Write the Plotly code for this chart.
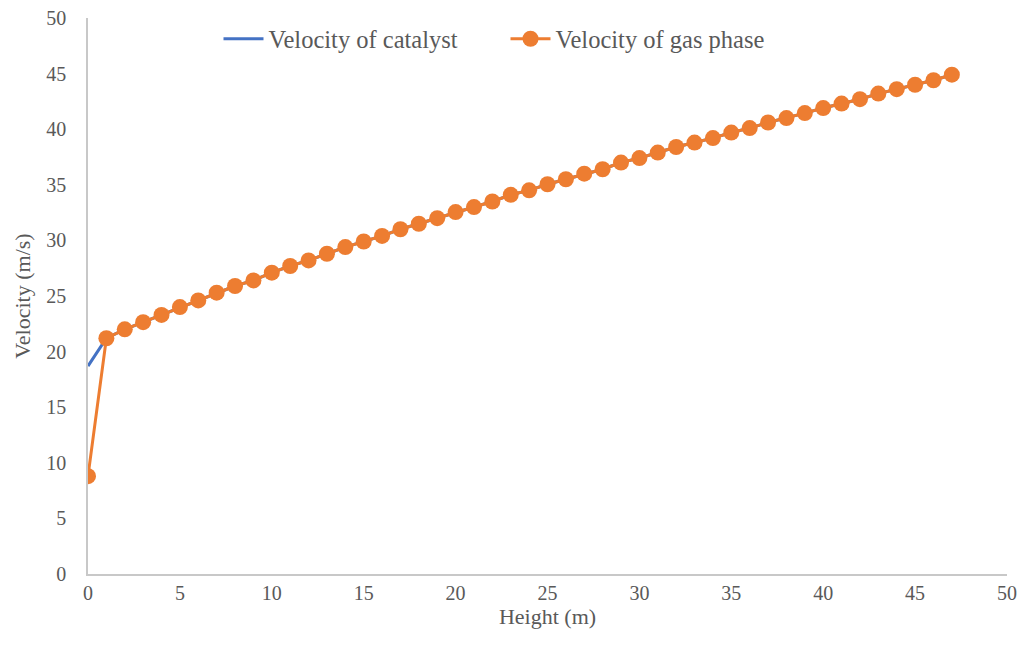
import plotly.graph_objects as go

heights = list(range(0, 48))
gas_velocity = [8.8, 21.2, 22.0, 22.65, 23.3, 24.0, 24.6, 25.3, 25.9, 26.4,
                27.1, 27.7, 28.2, 28.8, 29.4, 29.9, 30.4, 31.0, 31.5, 32.0,
                32.55, 33.0, 33.5, 34.1, 34.5, 35.05, 35.5, 36.0, 36.4, 37.0,
                37.4, 37.9, 38.4, 38.8, 39.2, 39.7, 40.1, 40.6, 41.0, 41.45,
                41.9, 42.3, 42.7, 43.2, 43.6, 44.0, 44.4, 44.9]
catalyst_velocity = [18.7] + gas_velocity[1:]

font_family = "Times New Roman, Liberation Serif, serif"
grey = "#595959"

fig = go.Figure()
fig.add_trace(go.Scatter(x=heights, y=catalyst_velocity, mode="lines",
                         name="Velocity of catalyst",
                         line=dict(color="#4472C4", width=3)))
fig.add_trace(go.Scatter(x=heights, y=gas_velocity, mode="lines+markers",
                         name="Velocity of gas phase",
                         line=dict(color="#ED7D31", width=3),
                         marker=dict(color="#ED7D31", size=16)))

fig.update_layout(
    width=1024, height=648,
    margin=dict(l=88, r=17, t=18, b=74, autoexpand=False),
    paper_bgcolor="white", plot_bgcolor="white",
    font=dict(family=font_family, color=grey, size=20),
    showlegend=True,
    legend=dict(orientation="h", x=0.142, xanchor="left", y=1.003, yanchor="top",
                font=dict(family=font_family, size=24.5, color=grey),
                bgcolor="rgba(0,0,0,0)", itemwidth=40, entrywidth=232),
    xaxis=dict(range=[0, 50], dtick=5, showgrid=False, zeroline=False,
               showline=True, linecolor="#C8C8C8", linewidth=1.5,
               ticks="", tickfont=dict(family=font_family, size=20, color=grey),
               automargin=False,
               title=dict(text="Height (m)", font=dict(family=font_family, size=22, color=grey), standoff=2)),
    yaxis=dict(range=[0, 50], dtick=5, showgrid=False, zeroline=False,
               showline=True, linecolor="#C8C8C8", linewidth=1.5,
               ticks="", ticklabelstandoff=16, automargin=False,
               tickfont=dict(family=font_family, size=20, color=grey),
               title=dict(text="Velocity (m/s)", font=dict(family=font_family, size=22, color=grey), standoff=10)),
)

fig.write_html("out.html")
